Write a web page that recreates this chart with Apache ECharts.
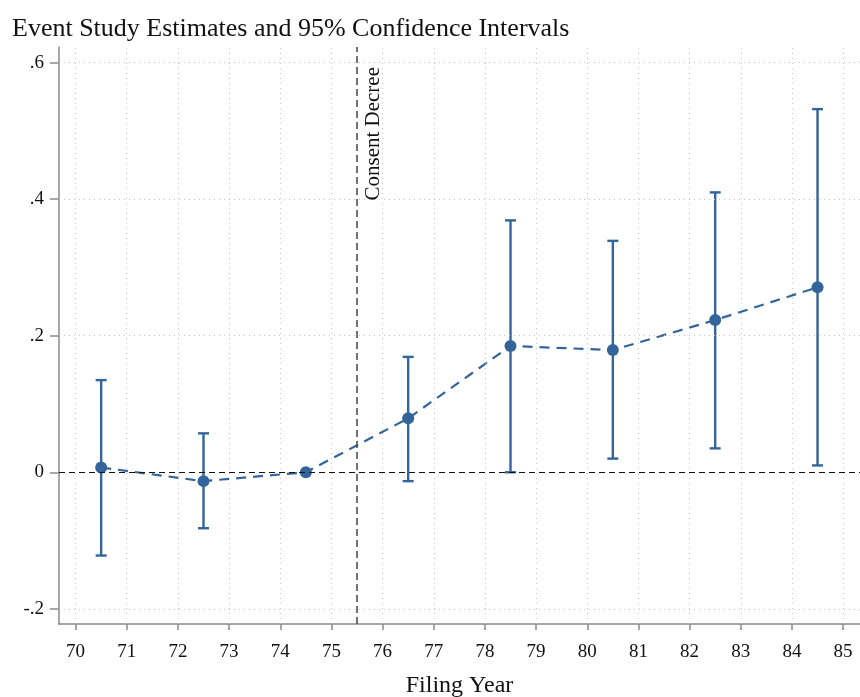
<!DOCTYPE html>
<html>
<head>
<meta charset="utf-8">
<script src="https://cdn.jsdelivr.net/npm/echarts@6/dist/echarts.min.js"></script>
<style>
html,body{margin:0;padding:0;background:#fff;}
#chart{width:860px;height:697px;}
</style>
</head>
<body>
<div id="chart"></div>
<script>
const years = [70.5, 72.5, 74.5, 76.5, 78.5, 80.5, 82.5, 84.5];
const estimates = [0.007, -0.013, 0.0, 0.079, 0.185, 0.179, 0.223, 0.271];
const ciLow = [-0.122, -0.082, 0.0, -0.013, 0.0, 0.020, 0.035, 0.010];
const ciHigh = [0.135, 0.057, 0.0, 0.169, 0.369, 0.339, 0.410, 0.532];
const xTicks = [70, 71, 72, 73, 74, 75, 76, 77, 78, 79, 80, 81, 82, 83, 84, 85];
const yTicks = [-0.2, 0, 0.2, 0.4, 0.6];
const eventYear = 75.5;
const eventLabel = 'Consent Decree';

const FONT = "'Liberation Serif', serif";
const BLUE = '#33659a';
const GRID = '#c4c4c4';

function fmtY(v) {
  if (Math.abs(v) < 1e-9) return '0';
  let s = (Math.round(v * 10) / 10).toString();
  return s.replace('0.', '.');
}

const chart = echarts.init(document.getElementById('chart'), null, {renderer: 'canvas'});
const option = {
  backgroundColor: '#fff',
  animation: false,
  title: {
    text: 'Event Study Estimates and 95% Confidence Intervals',
    left: 7, top: 11,
    textStyle: {fontFamily: FONT, fontSize: 26, fontWeight: 'normal', color: '#111'}
  },
  grid: {left: 59, right: 0, top: 47, bottom: 73, containLabel: false, outerBoundsMode: 'none'},
  xAxis: {
    type: 'value', min: 69.676, max: 85.33,
    name: 'Filing Year', nameLocation: 'middle', nameGap: 50,
    nameTextStyle: {fontFamily: FONT, fontSize: 24, color: '#111'},
    axisLine: {show: true, onZero: false, lineStyle: {color: '#8a8a8a', width: 1.5}},
    axisTick: {show: true, customValues: xTicks, length: 6, lineStyle: {color: '#8a8a8a', width: 1.5}},
    axisLabel: {customValues: xTicks, fontFamily: FONT, fontSize: 19, color: '#111', margin: 19},
    splitLine: {show: false}
  },
  yAxis: {
    type: 'value', min: -0.2223, max: 0.623,
    axisLine: {show: true, onZero: false, lineStyle: {color: '#8a8a8a', width: 1.5}},
    axisTick: {show: true, customValues: yTicks, length: 9, lineStyle: {color: '#8a8a8a', width: 1.5}},
    axisLabel: {customValues: yTicks, fontFamily: FONT, fontSize: 19, color: '#111', margin: 15, formatter: fmtY},
    splitLine: {show: false}
  },
  series: [
    {
      type: 'line', data: [], silent: true,
      markLine: {
        silent: true, symbol: 'none', animation: false,
        label: {show: false},
        lineStyle: {color: GRID, type: [1, 4], width: 1},
        data: xTicks.map(v => ({xAxis: v})).concat(yTicks.filter(v => v !== 0).map(v => ({yAxis: v})))
      }
    },
    {
      type: 'line', data: [], silent: true,
      markLine: {
        silent: true, symbol: 'none', animation: false,
        data: [
          {yAxis: 0, lineStyle: {color: '#111', type: [6, 4], width: 1.2}, label: {show: false}},
          {xAxis: eventYear, lineStyle: {color: '#444', type: [7, 4], width: 1.5},
           label: {show: true, formatter: eventLabel, position: 'insideEndBottom', distance: [20, 6],
                   fontFamily: FONT, fontSize: 21, color: '#111'}}
        ]
      }
    },
    {
      type: 'custom', z: 3,
      data: years.map((x, i) => [x, ciLow[i], ciHigh[i]]),
      renderItem: function (params, api) {
        const x = api.value(0);
        const lo = api.coord([x, api.value(1)]);
        const hi = api.coord([x, api.value(2)]);
        if (Math.abs(lo[1] - hi[1]) < 0.5) return null;
        const w = 5.5;
        const style = {stroke: BLUE, lineWidth: 2.4};
        return {
          type: 'group',
          children: [
            {type: 'line', shape: {x1: lo[0], y1: lo[1], x2: hi[0], y2: hi[1]}, style: style},
            {type: 'line', shape: {x1: lo[0] - w, y1: lo[1], x2: lo[0] + w, y2: lo[1]}, style: style},
            {type: 'line', shape: {x1: hi[0] - w, y1: hi[1], x2: hi[0] + w, y2: hi[1]}, style: style}
          ]
        };
      }
    },
    {
      type: 'line', z: 4,
      data: years.map((x, i) => [x, estimates[i]]),
      symbol: 'circle', symbolSize: 12,
      itemStyle: {color: BLUE},
      lineStyle: {color: BLUE, width: 2.2, type: [10, 7]}
    }
  ]
};
chart.setOption(option);
</script>
</body>
</html>
